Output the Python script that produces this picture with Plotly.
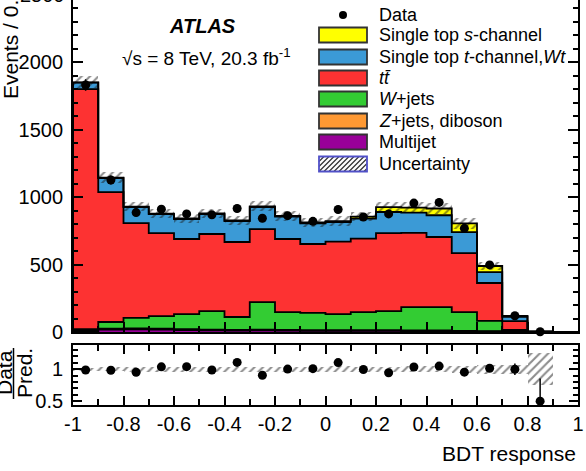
import math
import plotly.graph_objects as go

# ---------------- data ----------------
bin_centers = [-0.95, -0.85, -0.75, -0.65, -0.55, -0.45, -0.35, -0.25, -0.15, -0.05,
               0.05, 0.15, 0.25, 0.35, 0.45, 0.55, 0.65, 0.75, 0.85, 0.95]
bin_width = 0.1

multijet = [6, 18, 20, 18, 15, 12, 10, 12, 10, 8, 8, 8, 8, 6, 6, 5, 3, 1, 0.2, 0]
zjets_diboson = [3, 6, 6, 6, 6, 6, 5, 6, 5, 5, 5, 5, 5, 5, 5, 4, 3, 1, 0.2, 0]
wjets = [13, 50, 78, 94, 112, 137, 96, 204, 133, 128, 120, 135, 142, 174, 174, 139, 77, 13, 0.6, 0]
ttbar = [1778, 963, 703, 615, 556, 571, 556, 541, 541, 511, 537, 544, 578, 550, 519, 437, 280, 66, 2, 0]
single_top_t_wt = [48, 103, 119, 141, 148, 148, 155, 163, 166, 153, 145, 148, 156, 149, 161, 155, 81, 32, 0.5, 0]
single_top_s = [2, 3, 3, 3, 4, 4, 4, 5, 5, 7, 7, 15, 37, 38, 50, 65, 45, 7, 0.5, 0]
data = [1830, 1126, 885, 910, 875, 868, 915, 843, 862, 820, 908, 852, 875, 955, 960, 768, 497, 120, 2, None]
uncertainty = [45, 40, 36, 35, 33, 35, 33, 38, 34, 33, 36, 36, 40, 40, 42, 42, 33, 8, 1.0, 0]

x_tick_vals = [-1, -0.8, -0.6, -0.4, -0.2, 0, 0.2, 0.4, 0.6, 0.8, 1]
x_tick_text = ["-1", "-0.8", "-0.6", "-0.4", "-0.2", "0", "0.2", "0.4", "0.6", "0.8", "1"]
y_tick_vals = [0, 500, 1000, 1500, 2000]
ratio_tick_vals = [0.5, 1]
ratio_tick_text = ["0.5", "1"]

components = [
    ("Multijet", multijet, "#990099"),
    ("Z+jets, diboson", zjets_diboson, "#ff9933"),
    ("W+jets", wjets, "#33cc33"),
    ("ttbar", ttbar, "#fd3232"),
    ("t-channel", single_top_t_wt, "#3b9ad6"),
    ("s-channel", single_top_s, "#ffff00"),
]

# ---------------- geometry ----------------
W, H = 586, 471
ML, MR, MT, MB = 73, 8, 0, 66
PW, PH = W - ML - MR, H - MT - MB
main_bottom_px = 332
ratio_top_px = 345
FONT = "Liberation Sans, Arial, sans-serif"


def px(xpix):
    return (xpix - ML) / PW


def py(ypix):
    return (PH + MT - ypix) / PH


fig = go.Figure()

# stacked fills
n = len(bin_centers)
cum = [0.0] * n
levels = []
for name, vals, col in components:
    base = list(cum)
    fig.add_trace(go.Bar(x=bin_centers, y=vals, base=base, width=bin_width,
                         marker=dict(color=col, line=dict(width=0)),
                         showlegend=False, xaxis="x", yaxis="y"))
    cum = [c + v for c, v in zip(cum, vals)]
    levels.append(list(cum))
total = cum

# step outlines
lo_edge = [c - bin_width / 2 for c in bin_centers]
hi_last = bin_centers[-1] + bin_width / 2
for lev in levels:
    xs = [lo_edge[0]] + lo_edge + [hi_last]
    ys = [0] + lev + [0]
    fig.add_trace(go.Scatter(x=xs, y=ys, mode="lines", line=dict(color="black", width=1.8, shape="hv"),
                             showlegend=False, hoverinfo="skip", xaxis="x", yaxis="y"))

hatch = dict(shape="/", fgcolor="#1a1a1a", bgcolor="rgba(0,0,0,0)", size=6, solidity=0.35)

# uncertainty band (main)
fig.add_trace(go.Bar(x=bin_centers, y=[2 * u for u in uncertainty],
                     base=[t - u for t, u in zip(total, uncertainty)], width=bin_width,
                     marker=dict(color="rgba(0,0,0,0)", line=dict(width=0), pattern=hatch),
                     showlegend=False, xaxis="x", yaxis="y"))

# data points (main)
dx = [c for c, d in zip(bin_centers, data) if d is not None]
dy = [d for d in data if d is not None]
fig.add_trace(go.Scatter(x=dx, y=dy, mode="markers",
                         marker=dict(color="black", size=9),
                         error_y=dict(type="data", array=[math.sqrt(d) for d in dy], color="black",
                                      thickness=1.5, width=0),
                         cliponaxis=False, showlegend=False, xaxis="x", yaxis="y"))

# ratio panel
rb_x, rb_base, rb_h = [], [], []
for c, t, u in zip(bin_centers, total, uncertainty):
    if t > 0:
        rb_x.append(c)
        rb_base.append(1 - u / t)
        rb_h.append(2 * u / t)
fig.add_trace(go.Bar(x=rb_x, y=rb_h, base=rb_base, width=bin_width,
                     marker=dict(color="rgba(0,0,0,0)", line=dict(width=0), pattern=hatch),
                     showlegend=False, xaxis="x2", yaxis="y2"))
rx, ry, re = [], [], []
for c, d, t in zip(bin_centers, data, total):
    if d is not None and t > 0:
        rx.append(c)
        ry.append(d / t)
        re.append(math.sqrt(d) / t)
fig.add_trace(go.Scatter(x=rx, y=ry, mode="markers", marker=dict(color="black", size=9),
                         error_y=dict(type="data", array=re, color="black", thickness=1.5, width=0),
                         cliponaxis=False, showlegend=False, xaxis="x2", yaxis="y2"))

axis_common = dict(ticks="inside", showline=True, linecolor="black", linewidth=1.8,
                   tickcolor="black", tickwidth=1.5, showgrid=False, zeroline=False,
                   tickfont=dict(family=FONT, size=20, color="black"))

fig.update_layout(
    width=W, height=H, margin=dict(l=ML, r=MR, t=MT, b=MB),
    paper_bgcolor="white", plot_bgcolor="white", barmode="overlay", bargap=0,
    showlegend=False,
    xaxis=dict(domain=[0, 1], range=[-1, 1], anchor="y", showticklabels=False,
               tickvals=x_tick_vals, ticklen=10,
               minor=dict(dtick=0.1, ticklen=6, ticks="inside", tickcolor="black"),
               **axis_common),
    yaxis=dict(domain=[py(main_bottom_px), 1], range=[0, 2460], anchor="x",
               tickvals=y_tick_vals, ticklen=10, mirror="ticks", ticklabelstandoff=4,
               minor=dict(dtick=100, ticklen=5, ticks="inside", tickcolor="black"),
               **axis_common),
    xaxis2=dict(domain=[0, 1], range=[-1, 1], anchor="y2", mirror="ticks",
                tickvals=x_tick_vals, ticktext=x_tick_text, ticklen=9,
                minor=dict(dtick=0.1, ticklen=6, ticks="inside", tickcolor="black"),
                **axis_common),
    yaxis2=dict(domain=[0, py(ratio_top_px)], range=[0.44, 1.38], anchor="x2", mirror="ticks",
                tickvals=ratio_tick_vals, ticktext=ratio_tick_text, ticklen=9, ticklabelstandoff=4,
                minor=dict(dtick=0.1, ticklen=5, ticks="inside", tickcolor="black"),
                **axis_common),
)

annotations = []
shapes = []
txt = dict(family=FONT, color="black")

# partially visible 2500 label
annotations.append(dict(x=px(67), y=py(-5.5), xref="paper", yref="paper", text="2500",
                        showarrow=False, xanchor="right", yanchor="middle", font=dict(size=20, **txt)))
# axis titles
annotations.append(dict(x=px(11), y=py(44), xref="paper", yref="paper", text="Events / 0.1",
                        textangle=-90, showarrow=False, xanchor="center", yanchor="middle",
                        font=dict(size=21, **txt)))
annotations.append(dict(x=px(578), y=py(453), xref="paper", yref="paper", text="BDT response",
                        showarrow=False, xanchor="right", yanchor="middle", font=dict(size=21, **txt)))
annotations.append(dict(x=px(4), y=py(373), xref="paper", yref="paper", text="Data",
                        textangle=-90, showarrow=False, xanchor="center", yanchor="middle",
                        font=dict(size=21, **txt)))
annotations.append(dict(x=px(24), y=py(373), xref="paper", yref="paper", text="Pred.",
                        textangle=-90, showarrow=False, xanchor="center", yanchor="middle",
                        font=dict(size=21, **txt)))
shapes.append(dict(type="line", xref="paper", yref="paper", x0=px(13.5), x1=px(13.5),
                   y0=py(348), y1=py(399), line=dict(color="black", width=1.5)))

# ATLAS label
annotations.append(dict(x=px(202), y=py(26), xref="paper", yref="paper", text="<b><i>ATLAS</i></b>",
                        showarrow=False, xanchor="center", yanchor="middle", font=dict(size=20, **txt)))
annotations.append(dict(x=px(206), y=py(57), xref="paper", yref="paper",
                        text="√s = 8 TeV, 20.3 fb<sup>-1</sup>",
                        showarrow=False, xanchor="center", yanchor="middle", font=dict(size=19, **txt)))

# manual legend
legend_rows = [
    ("Data", None, None),
    ("Single top <i>s</i>-channel", "#ffff00", "#333333"),
    ("Single top <i>t</i>-channel,<i>Wt</i>", "#3b9ad6", "#333333"),
    ("<i>t</i><i>t̄</i>", "#fd3232", "#333333"),
    ("<i>W</i>+jets", "#33cc33", "#333333"),
    ("<i>Z</i>+jets, diboson", "#ff9933", "#333333"),
    ("Multijet", "#990099", "#333333"),
    ("Uncertainty", "hatch", "#5050c8"),
]
row_y = [15, 35, 57, 78, 99, 121, 142, 164]
bx0, bx1 = 319, 367
for (label, fill, border), yc in zip(legend_rows, row_y):
    annotations.append(dict(x=px(377), y=py(yc), xref="paper", yref="paper", text=label,
                            showarrow=False, xanchor="left", yanchor="middle", font=dict(size=18, **txt)))
    if fill is None:
        shapes.append(dict(type="circle", xref="paper", yref="paper", x0=px(339), x1=px(347),
                           y0=py(yc + 4), y1=py(yc - 4), fillcolor="black", line=dict(width=0)))
        continue
    y0p, y1p = yc + 7.5, yc - 7.5
    if fill == "hatch":
        h = y0p - y1p
        c = bx0 - h
        while c < bx1:
            xa, ya, xb, yb = c, y0p, c + h, y1p
            if xa < bx0:
                ya = y0p - (bx0 - xa)
                xa = bx0
            if xb > bx1:
                yb = y1p + (xb - bx1)
                xb = bx1
            shapes.append(dict(type="line", xref="paper", yref="paper", x0=px(xa), y0=py(ya),
                               x1=px(xb), y1=py(yb), line=dict(color="#333333", width=1.3)))
            c += 5
        shapes.append(dict(type="rect", xref="paper", yref="paper", x0=px(bx0), x1=px(bx1),
                           y0=py(y0p), y1=py(y1p), fillcolor="rgba(0,0,0,0)",
                           line=dict(color=border, width=1.8)))
    else:
        shapes.append(dict(type="rect", xref="paper", yref="paper", x0=px(bx0), x1=px(bx1),
                           y0=py(y0p), y1=py(y1p), fillcolor=fill,
                           line=dict(color=border, width=1.8)))

fig.update_layout(annotations=annotations, shapes=shapes)
fig.write_html("out.html")
